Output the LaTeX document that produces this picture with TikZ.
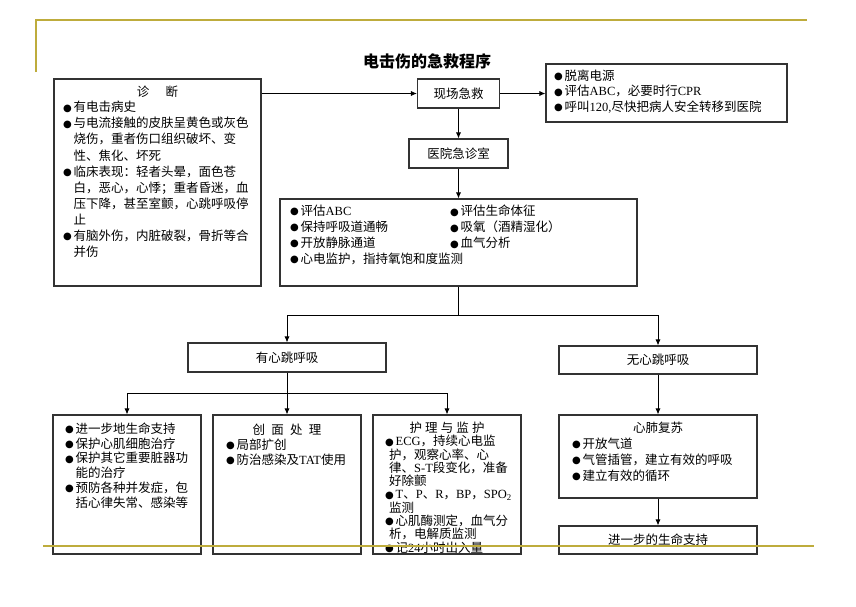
\documentclass[tikz,border=0pt]{standalone}
\usepackage{fontspec}
\usetikzlibrary{arrows.meta}
\setmainfont{Noto Sans CJK SC}
\newfontfamily\latinfont{Liberation Serif}
\newfontfamily\dejavu{DejaVu Sans}
\newcommand\Lt[1]{{\latinfont #1}}
\newcommand\bul{\makebox[10.5pt][l]{\raisebox{0.6pt}{\dejavu\fontsize{10}{10}\selectfont ●}}}
\newcommand\ind{\hspace*{10.5pt}}
\definecolor{gold}{RGB}{190,172,60}

\begin{document}
\begin{tikzpicture}[x=1pt,y=-1pt,
  box/.style={draw=black!80,line width=1.1pt,inner sep=0pt},
  list/.style={anchor=north west,align=left,inner sep=0pt,font=\fontsize{12.5}{16}\selectfont},
  head/.style={inner sep=0pt,font=\fontsize{12.5}{12.5}\selectfont},
  arr/.style={-{Latex[length=6pt,width=5pt]},line width=0.8pt},
  rule/.style={draw=gold,line width=1.8pt}]
  \useasboundingbox (0,0) rectangle (856,606);

  \node[font=\fontsize{16}{16}\selectfont\bfseries] (title) at (427,61) {电击伤的急救程序};

  % diagnosis
  \node[box,minimum width=207pt,minimum height=207pt] (diag) at (157.5,182.5) {};
  \node[head] (diaghead) at (157.5,92) {诊\hspace{1.3em}断};
  \node[list,font=\fontsize{12.5}{16.1}\selectfont] (diagtext) at (63,101) {
    \bul 有电击病史\\
    \bul 与电流接触的皮肤呈黄色或灰色\\
    \ind 烧伤，重者伤口组织破坏、变\\
    \ind 性、焦化、坏死\\
    \bul 临床表现：轻者头晕，面色苍\\
    \ind 白，恶心，心悸；重者昏迷，血\\
    \ind 压下降，甚至室颤，心跳呼吸停\\
    \ind 止\\
    \bul 有脑外伤，内脏破裂，骨折等合\\
    \ind 并伤};

  % on site
  \node[box,minimum width=82pt,minimum height=29pt,head] (scene) at (458.5,93.5) {现场急救};
  \node[box,minimum width=241pt,minimum height=58pt] (onsite) at (666.5,93) {};
  \node[list,font=\fontsize{12.5}{15.5}\selectfont] (onsitetext) at (554,69.5) {
    \bul 脱离电源\\
    \bul 评估\Lt{ABC}，必要时行\Lt{CPR}\\
    \bul 呼叫\Lt{120,}尽快把病人安全转移到医院};

  % hospital
  \node[box,minimum width=99pt,minimum height=29pt,head] (er) at (458.5,153.5) {医院急诊室};
  \node[box,minimum width=357pt,minimum height=87pt] (basic) at (458.5,242.5) {};
  \node[list] (basicleft) at (290,204.5) {
    \bul 评估\Lt{ABC}\\
    \bul 保持呼吸道通畅\\
    \bul 开放静脉通道\\
    \bul 心电监护，指持氧饱和度监测};
  \node[list] (basicright) at (450,205) {
    \bul 评估生命体征\\
    \bul 吸氧（酒精湿化）\\
    \bul 血气分析};

  % with heartbeat
  \node[box,minimum width=198pt,minimum height=29pt,head] (yes) at (287,357.5) {有心跳呼吸};
  \node[box,minimum width=148pt,minimum height=139pt] (life) at (127,484.5) {};
  \node[list,font=\fontsize{12.5}{14.8}\selectfont] (lifetext) at (65,422.5) {
    \bul 进一步地生命支持\\
    \bul 保护心肌细胞治疗\\
    \bul 保护其它重要脏器功\\
    \ind 能的治疗\\
    \bul 预防各种并发症，包\\
    \ind 括心律失常、感染等};
  \node[box,minimum width=148pt,minimum height=139pt] (wound) at (287,484.5) {};
  \node[head] (woundhead) at (287,429.5) {创\hspace{0.5em}面\hspace{0.5em}处\hspace{0.5em}理};
  \node[list,font=\fontsize{12.5}{15}\selectfont] (woundtext) at (226,438.5) {
    \bul 局部扩创\\
    \bul 防治感染及\Lt{TAT}使用};
  \node[box,minimum width=148pt,minimum height=139pt] (care) at (447,484.5) {};
  \node[head] (carehead) at (447,427.5) {护\hspace{0.25em}理\hspace{0.25em}与\hspace{0.25em}监\hspace{0.25em}护};
  \node[list,font=\fontsize{12.5}{13.3}\selectfont] (caretext) at (385,435) {
    \bul \Lt{ECG}，持续心电监\\
    \hspace*{4pt}护，观察心率、心\\
    \hspace*{4pt}律、\Lt{S-T}段变化，准备\\
    \hspace*{4pt}好除颤\\
    \bul \Lt{T}、\Lt{P}、\Lt{R}，\Lt{BP}，\Lt{SPO\textsubscript{2}}\\
    \hspace*{4pt}监测\\
    \bul 心肌酶测定，血气分\\
    \hspace*{4pt}析，电解质监测\\
    \bul 记\Lt{24}小时出入量};

  % no heartbeat
  \node[box,minimum width=198pt,minimum height=28pt,head] (no) at (658,360) {无心跳呼吸};
  \node[box,minimum width=198pt,minimum height=83pt] (cpr) at (658,456.5) {};
  \node[head] (cprhead) at (658,427.5) {心肺复苏};
  \node[list] (cprtext) at (572,437.5) {
    \bul 开放气道\\
    \bul 气管插管，建立有效的呼吸\\
    \bul 建立有效的循环};
  \node[box,minimum width=198pt,minimum height=28pt,head] (adv) at (658,540) {进一步的生命支持};

  % connectors
  \draw[arr] (diag.east |- scene.west) -- (scene.west);
  \draw[arr] (scene.east) -- (scene.east -| onsite.west);
  \draw[arr] (scene.south) -- (er.north);
  \draw[arr] (er.south) -- (basic.north);
  \draw[line width=0.8pt] (basic.south) -- ++(0,29) coordinate (split);
  \draw[arr] (split) -| (yes.north);
  \draw[arr] (split) -| (no.north);
  \draw[line width=0.8pt] (yes.south) -- ++(0,21) coordinate (fork);
  \draw[arr] (fork) -| (life.north);
  \draw[arr] (yes.south) -- (wound.north);
  \draw[arr] (fork) -| (care.north);
  \draw[arr] (no.south) -- (cpr.north);
  \draw[arr] (cpr.south) -- (adv.north);

  % page rules
  \draw[rule] (36,72) -- (36,20) -- (807,20);
  \draw[rule] (43,546) -- (814,546);
\end{tikzpicture}
\end{document}
